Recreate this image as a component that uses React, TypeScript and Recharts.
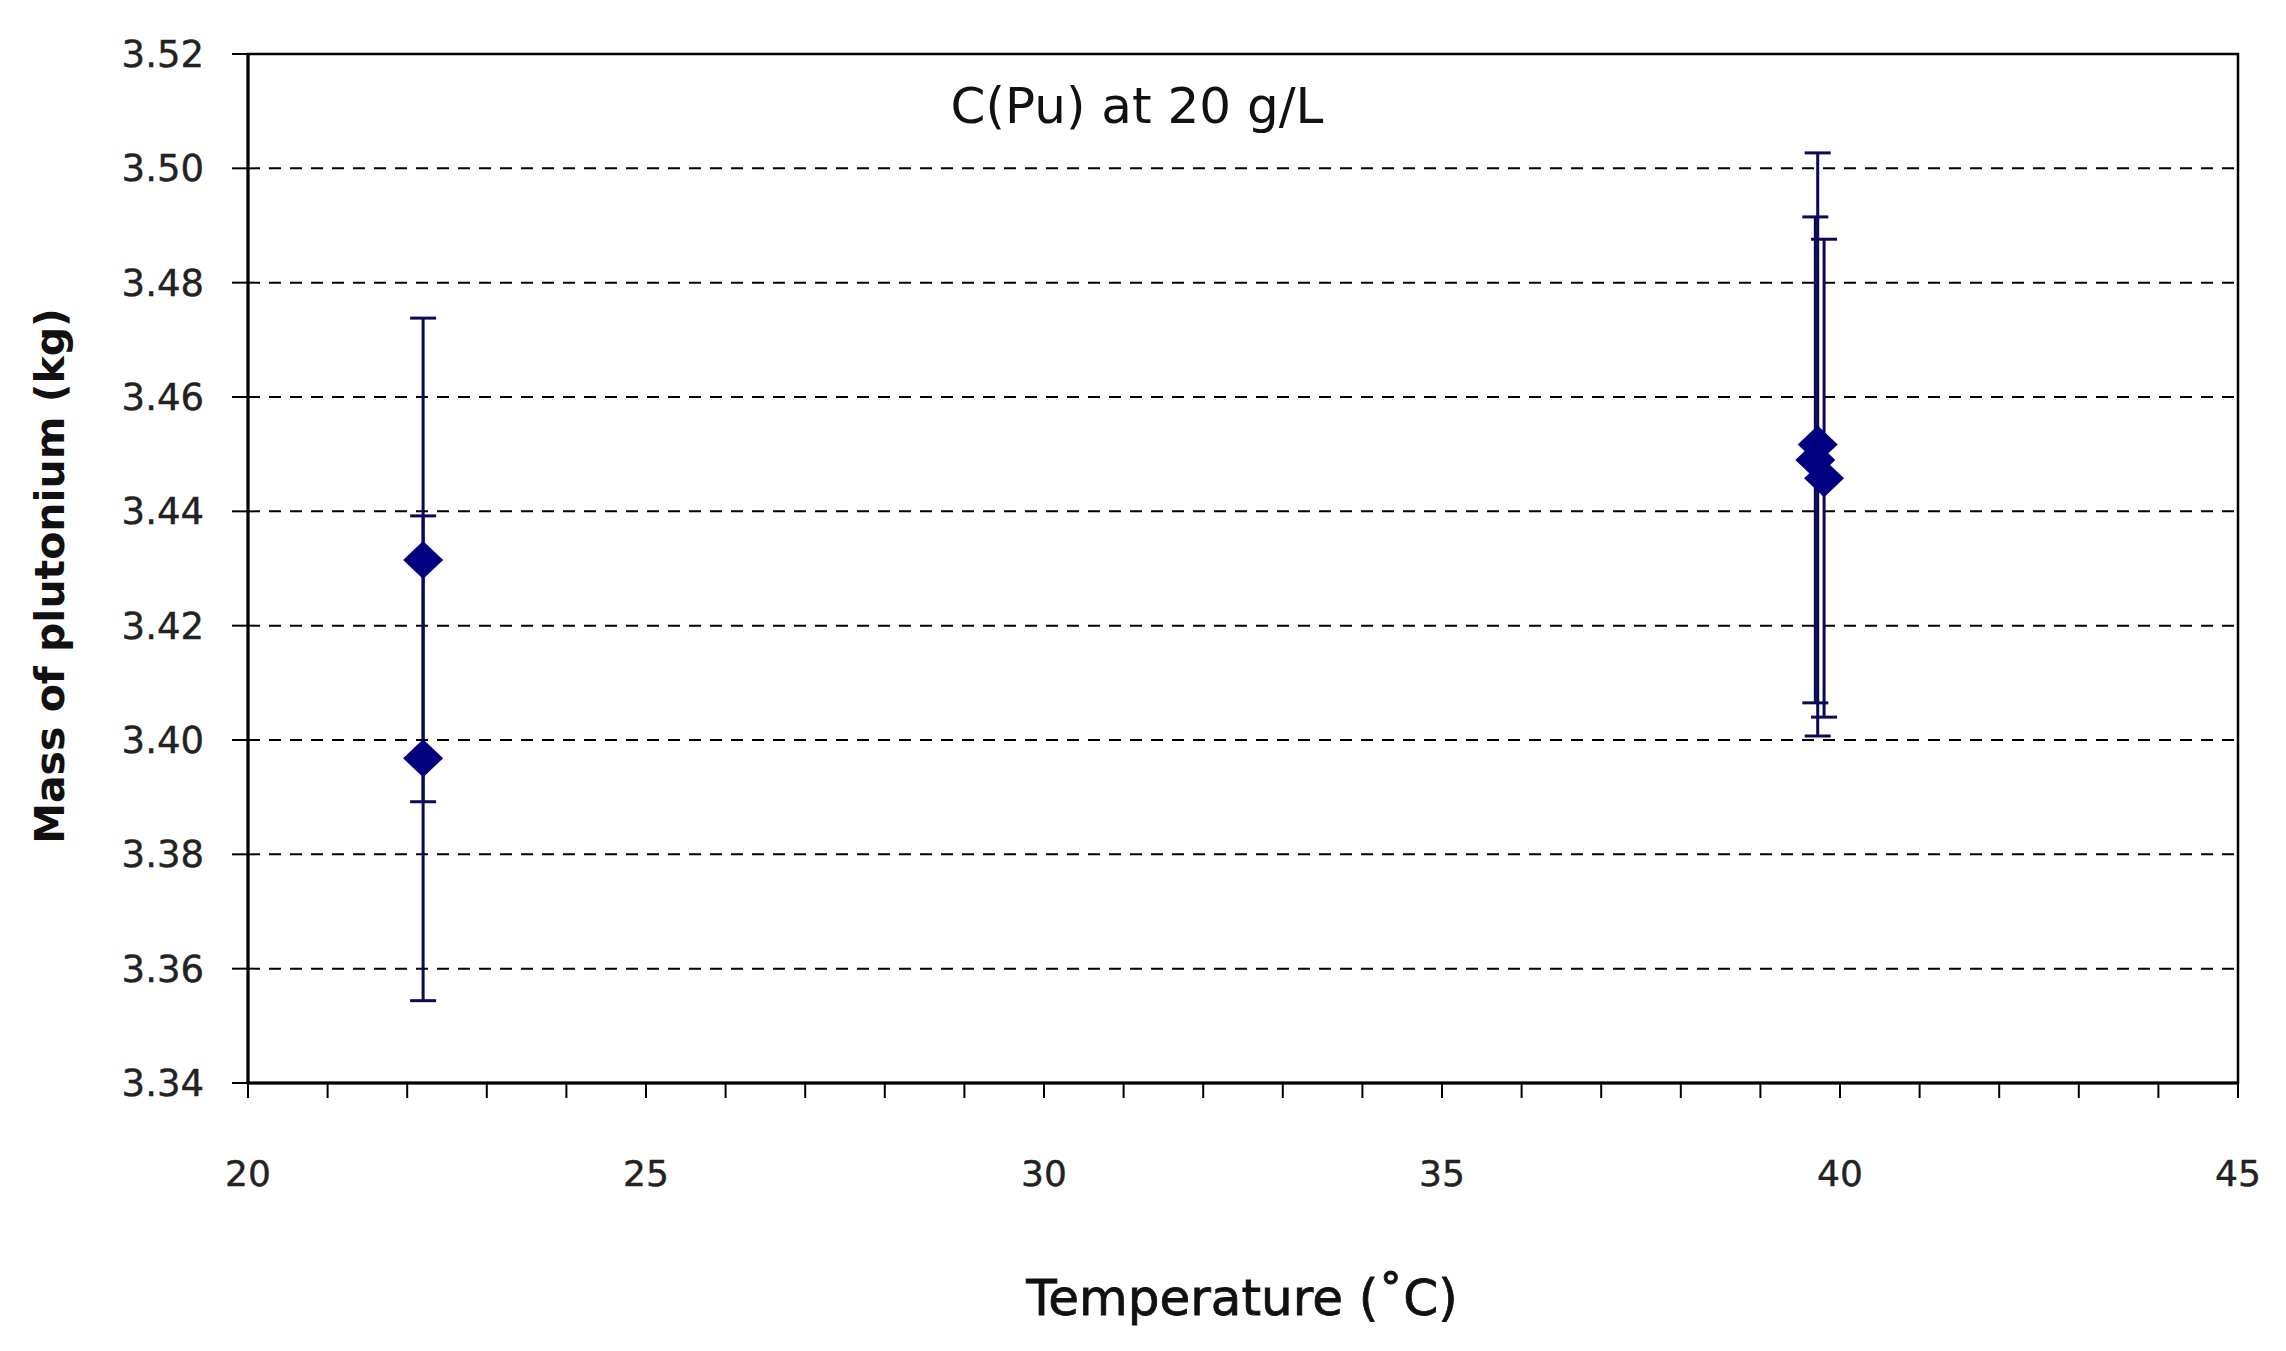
import { ScatterChart, Scatter, XAxis, YAxis, CartesianGrid, ErrorBar, ReferenceArea } from "recharts"

const temperature = [22.2, 22.2, 39.72, 39.69, 39.8]
const massKg = [3.4315, 3.3968, 3.4517, 3.449, 3.4458]
const massErr = [0.0423, 0.0424, 0.051, 0.0425, 0.0418]

const xTicks = [20, 21, 22, 23, 24, 25, 26, 27, 28, 29, 30, 31, 32, 33, 34, 35, 36, 37, 38, 39, 40, 41, 42, 43, 44, 45]
const xLabels = [20, 25, 30, 35, 40, 45]
const yTicks = [3.34, 3.36, 3.38, 3.4, 3.42, 3.44, 3.46, 3.48, 3.5, 3.52]

const data = temperature.map((t, i) => ({ t, m: massKg[i], err: massErr[i] }))

const FONT = "'DejaVu Sans', Verdana, sans-serif"
const NAVY = "#000080"

function Diamond(props: any) {
  const { cx, cy } = props
  const w = 20
  const h = 19
  return (
    <polygon
      points={`${cx - w},${cy} ${cx},${cy - h} ${cx + w},${cy} ${cx},${cy + h}`}
      fill={NAVY}
    />
  )
}

export default function App() {
  return (
    <div style={{ width: 2270, height: 1335 }}>
      <ScatterChart width={2270} height={1335} margin={{ top: 46, right: 40, left: 0, bottom: 160 }}>
        <CartesianGrid vertical={false} stroke="#000" strokeWidth={2} strokeDasharray="12 9" />
        <XAxis
          type="number"
          dataKey="t"
          domain={[20, 45]}
          ticks={xTicks}
          interval={0}
          height={100}
          tickSize={15}
          tickMargin={62}
          tickFormatter={(v: number) => (xLabels.includes(v) ? String(v) : "")}
          axisLine={{ stroke: "#000", strokeWidth: 3 }}
          tickLine={{ stroke: "#000", strokeWidth: 2 }}
          tick={{ fill: "#222", fontSize: 36, fontFamily: FONT, stroke: "#222", strokeWidth: 0.4 }}
          allowDataOverflow
        />
        <YAxis
          type="number"
          dataKey="m"
          domain={[3.34, 3.52]}
          ticks={yTicks}
          interval={0}
          width={240}
          tickSize={16}
          tickMargin={28}
          tickFormatter={(v: number) => v.toFixed(2)}
          axisLine={{ stroke: "#000", strokeWidth: 3 }}
          tickLine={{ stroke: "#000", strokeWidth: 2 }}
          tick={{ fill: "#222", fontSize: 37, fontFamily: FONT, stroke: "#222", strokeWidth: 0.4 }}
          allowDataOverflow
        />
        <ReferenceArea x1={20} x2={45} y1={3.34} y2={3.52} fill="none" stroke="#000" strokeWidth={2.5} />
        <Scatter data={data} shape={Diamond} isAnimationActive={false}>
          <ErrorBar dataKey="err" direction="y" width={13} stroke="#0a0a55" strokeWidth={3} />
        </Scatter>
        <text x={1129} y={98} textAnchor="middle" dominantBaseline="central" fontFamily={FONT} fontSize={50} fill="#111">
          C(Pu) at 20 g/L
        </text>
        <text
          x={42}
          y={568}
          transform="rotate(-90 42 568)"
          textAnchor="middle"
          dominantBaseline="central"
          fontFamily={FONT}
          fontSize={41}
          fontWeight="bold"
          fill="#111"
        >
          Mass of plutonium (kg)
        </text>
        <text
          x={1234}
          y={1290}
          textAnchor="middle"
          dominantBaseline="central"
          fontFamily={FONT}
          fontSize={50}
          fill="#111"
          stroke="#111"
          strokeWidth={0.8}
        >
          Temperature (˚C)
        </text>
      </ScatterChart>
    </div>
  )
}
